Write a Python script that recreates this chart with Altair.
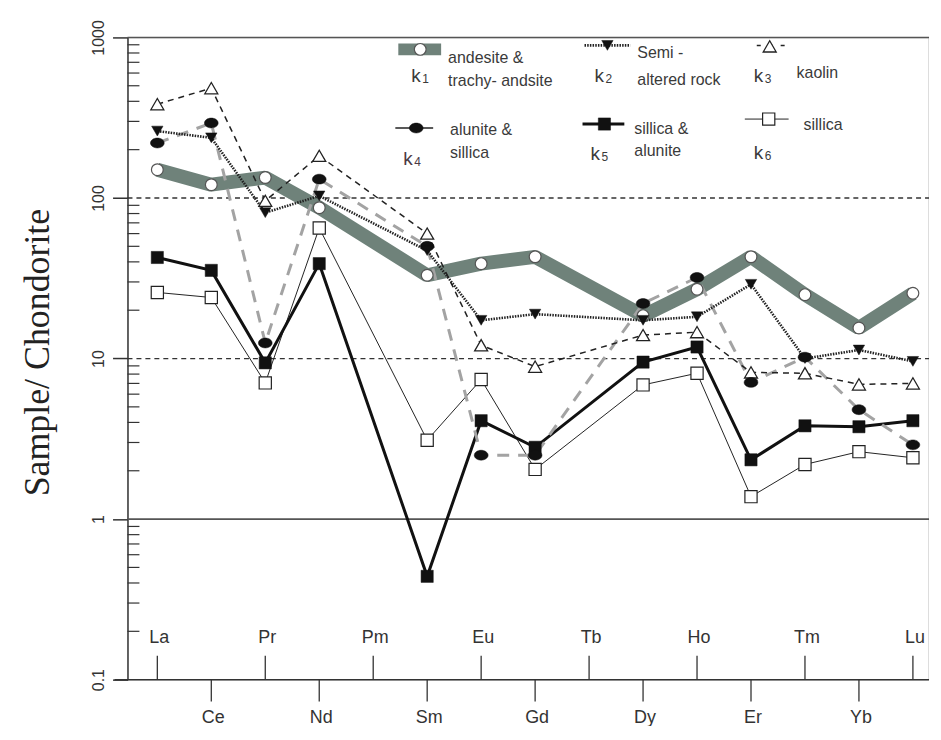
import altair as alt
import pandas as pd

# ---------------- data ----------------
elements = ["La", "Ce", "Pr", "Nd", "Pm", "Sm", "Eu", "Gd", "Tb", "Dy", "Ho", "Er", "Tm", "Yb", "Lu"]
label_row = [0, 1, 0, 1, 0, 1, 0, 1, 0, 1, 0, 1, 0, 1, 0]   # 0 = upper row, 1 = lower row

k1 = [150, 121, 134, 87, None, 33, 39, 43, None, 18.5, 27, 43, 25, 15.5, 25.5]
k2 = [261, 237, 81, 103, None, 47, 17.3, 18.9, None, 17.3, 18.2, 29, 10, 11.3, 9.6]
k3 = [384, 483, 96, 183, None, 60, 12.1, 8.9, None, 14, 14.6, 8.2, 8.1, 6.9, 7.0]
k4 = [220, 293, 12.5, 131, None, 50, 2.5, 2.5, None, 22, 32, 7.1, 10.2, 4.8, 2.9]
k5 = [42.6, 35.4, 9.4, 39, None, 0.44, 4.1, 2.8, None, 9.5, 11.8, 2.34, 3.81, 3.76, 4.1]
k6 = [25.8, 24, 7.05, 65, None, 3.1, 7.4, 2.04, None, 6.85, 8.1, 1.38, 2.19, 2.63, 2.41]

major_ticks = [0.1, 1, 10, 100, 1000]
minor_ticks = [m * d for d in [0.1, 1, 10, 100] for m in range(2, 10)]
dashed_refs = [10, 100]
solid_refs = [1]


def series_df(vals):
    return pd.DataFrame([{"idx": i, "el": elements[i], "v": v}
                         for i, v in enumerate(vals) if v is not None])


elem_df = pd.DataFrame({"idx": list(range(len(elements))), "el": elements, "row": label_row})
upper_df = elem_df[elem_df["row"] == 0]
lower_df = elem_df[elem_df["row"] == 1]
one = pd.DataFrame({"a": [0]})

# ---------------- scales / encodings ----------------
W, H = 804, 645
xscale = alt.Scale(domain=[-0.553, 14.28], nice=False, zero=False)
yscale = alt.Scale(type="log", domain=[0.1, 1000], nice=False)
yaxis = alt.Axis(
    values=major_ticks, format="~g", grid=False,
    domainColor="#333", domainWidth=1.5, tickColor="#333", tickWidth=1.5, tickSize=15,
    labelAngle=270, labelAlign="center", labelBaseline="bottom", labelPadding=6,
    labelFont="Liberation Sans", labelFontSize=16, labelColor="#333", labelFlush=False,
    title="Sample/ Chondorite", titleFont="Liberation Serif", titleFontSize=36,
    titleFontWeight="normal", titleColor="#222", titleAngle=270, titleAlign="center",
    titleBaseline="middle", titleX=-90, titleY=316,
)
X = alt.X("idx:Q", scale=xscale, axis=None)
Y = alt.Y("v:Q", scale=yscale, axis=yaxis)

layers = []

# reference lines
layers.append(alt.Chart(pd.DataFrame({"v": dashed_refs})).mark_rule(
    color="#333", strokeWidth=1.3, strokeDash=[5, 4]).encode(
    y=Y, x=alt.value(0), x2=alt.value(W + 1)))
layers.append(alt.Chart(pd.DataFrame({"v": solid_refs})).mark_rule(
    color="#555", strokeWidth=1.6).encode(y=Y, x=alt.value(0), x2=alt.value(W + 1)))
# top border
layers.append(alt.Chart(pd.DataFrame({"v": [1000]})).mark_rule(
    color="#555", strokeWidth=1.6).encode(y=Y, x=alt.value(0), x2=alt.value(W + 1)))
# minor ticks (inside)
layers.append(alt.Chart(pd.DataFrame({"v": minor_ticks})).mark_rule(
    color="#333", strokeWidth=1.2).encode(y=Y, x=alt.value(0), x2=alt.value(12)))

# x axis line and element ticks / labels
layers.append(alt.Chart(one).mark_rule(color="#333", strokeWidth=1.5).encode(
    x=alt.value(-13), x2=alt.value(W + 1), y=alt.value(H)))
layers.append(alt.Chart(upper_df).mark_rule(color="#333", strokeWidth=1.3).encode(
    x=X, y=alt.value(H - 24), y2=alt.value(H)))
layers.append(alt.Chart(lower_df).mark_rule(color="#333", strokeWidth=1.3).encode(
    x=X, y=alt.value(H), y2=alt.value(H + 22)))
layers.append(alt.Chart(upper_df).mark_text(
    font="Liberation Sans", fontSize=18, color="#333", baseline="middle", dx=2).encode(
    x=X, y=alt.value(H - 42), text="el:N"))
layers.append(alt.Chart(lower_df).mark_text(
    font="Liberation Sans", fontSize=18, color="#333", baseline="middle", dx=2).encode(
    x=X, y=alt.value(H + 39), text="el:N"))

ELLIPSE = "M -1 0 A 1 0.72 0 1 1 1 0 A 1 0.72 0 1 1 -1 0 Z"

styles = {
    "k1": dict(line=dict(color="#6f827a", strokeWidth=14, strokeJoin="bevel"),
               pt=dict(shape="circle", filled=True, fill="white", stroke="#555", strokeWidth=1.2, size=140)),
    "k6": dict(line=dict(color="#222", strokeWidth=1),
               pt=dict(shape="square", filled=True, fill="white", stroke="#222", strokeWidth=1.2, size=150)),
    "k5": dict(line=dict(color="#111", strokeWidth=3),
               pt=dict(shape="square", filled=True, fill="#111", stroke="#111", strokeWidth=0.5, size=150)),
    "k4": dict(line=dict(color="#a3a3a3", strokeWidth=3, strokeDash=[12, 9]),
               pt=dict(shape=ELLIPSE, filled=True, fill="#111", stroke="#111", strokeWidth=0.5, size=190)),
    "k3": dict(line=dict(color="#222", strokeWidth=1.5, strokeDash=[6, 5]),
               pt=dict(shape="triangle-up", filled=True, fill="white", stroke="#222", strokeWidth=1.3, size=170)),
    "k2": dict(line=dict(color="#222", strokeWidth=2.6, strokeDash=[1.5, 1.2]),
               pt=dict(shape="triangle-down", filled=True, fill="#111", stroke="#111", strokeWidth=0.5, size=130)),
}
series = {"k1": k1, "k6": k6, "k5": k5, "k4": k4, "k3": k3, "k2": k2}

for key in ["k1", "k6", "k5", "k4", "k3", "k2"]:
    layers.append(alt.Chart(series_df(series[key])).mark_line(**styles[key]["line"]).encode(x=X, y=Y))
for key in ["k1", "k6", "k5", "k3", "k4", "k2"]:
    layers.append(alt.Chart(series_df(series[key])).mark_point(opacity=1, **styles[key]["pt"]).encode(x=X, y=Y))

# ---------------- legend (drawn inside plot) ----------------
def txt(s, x, y, size=16, color="#3a3a3a"):
    return alt.Chart(one).mark_text(text=s, font="Liberation Sans", fontSize=size, color=color,
                                    align="left", baseline="middle").encode(x=alt.value(x), y=alt.value(y))

def sym(x, y, **kw):
    return alt.Chart(one).mark_point(opacity=1, **kw).encode(x=alt.value(x), y=alt.value(y))

def seg(x1, x2, y, **kw):
    return alt.Chart(one).mark_rule(**kw).encode(x=alt.value(x1), x2=alt.value(x2), y=alt.value(y))

# k1
layers.append(alt.Chart(one).mark_rect(color="#6f827a").encode(
    x=alt.value(272), x2=alt.value(315), y=alt.value(6), y2=alt.value(18)))
layers.append(sym(294, 12, **styles["k1"]["pt"]))
layers += [txt("k", 285, 39, 19), txt("1", 296, 42, 12),
           txt("andesite &", 322, 21), txt("trachy- andsite", 322, 44)]
# k2
layers.append(seg(459, 505, 8, color="#222", strokeWidth=2.6, strokeDash=[1.5, 1.2]))
layers.append(sym(482, 8, **styles["k2"]["pt"]))
layers += [txt("k", 469, 39, 19), txt("2", 480, 42, 12),
           txt("Semi -", 512, 16), txt("altered rock", 512, 43)]
# k3
layers.append(seg(632, 662, 8, color="#222", strokeWidth=1.5, strokeDash=[4, 8]))
layers.append(sym(645, 9, **styles["k3"]["pt"]))
layers += [txt("k", 629, 39, 19), txt("3", 640, 42, 12), txt("kaolin", 672, 36)]
# k4
layers.append(seg(269, 307, 91, color="#222", strokeWidth=1.5))
layers.append(sym(290, 91, **styles["k4"]["pt"]))
layers += [txt("k", 277, 122, 19, "#4b3a45"), txt("4", 288, 125, 12, "#4b3a45"),
           txt("alunite &", 324, 93), txt("sillica", 324, 116)]
# k5
layers.append(seg(457, 499, 87, color="#111", strokeWidth=3))
layers.append(sym(479, 87, **styles["k5"]["pt"]))
layers += [txt("k", 465, 117, 19), txt("5", 476, 120, 12),
           txt("sillica &", 509, 92), txt("alunite", 509, 114)]
# k6
layers.append(seg(620, 664, 82, color="#222", strokeWidth=1))
layers.append(sym(644, 82, **styles["k6"]["pt"]))
layers += [txt("k", 629, 116, 19), txt("6", 640, 119, 12), txt("sillica", 679, 88)]

chart = alt.layer(*layers).properties(
    width=W, height=H,
    autosize=alt.AutoSizeParams(type="none"),
    padding={"left": 120, "top": 28, "right": 5, "bottom": 45},
).configure_view(stroke=None).configure(background="white")

chart.save("out.html", embed_options={"renderer": "svg", "actions": False})
